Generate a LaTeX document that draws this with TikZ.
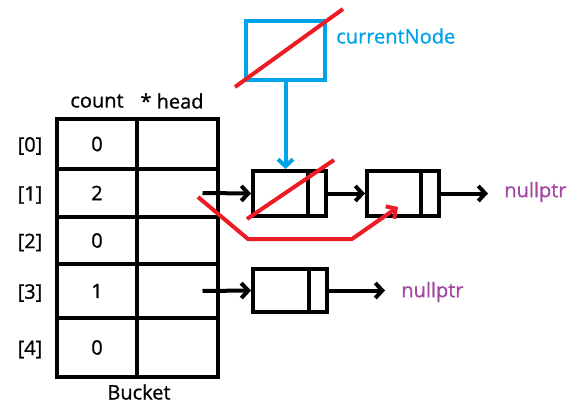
\documentclass[tikz,border=0pt]{standalone}
\usepackage{fontspec}
\setmainfont{Open Sans}[UprightFeatures={FakeBold=0.8}]
\usetikzlibrary{arrows.meta, positioning, calc}
\definecolor{paintblue}{RGB}{0,162,232}
\definecolor{paintred}{RGB}{237,28,36}
\definecolor{paintpurple}{RGB}{163,73,164}

\begin{document}
\begin{tikzpicture}[x=1pt, y=-1pt, line width=4pt,
    font=\fontsize{20}{24}\selectfont,
    cell/.style={draw, minimum width=80pt, inner sep=0pt},
    listnode/.style={draw, minimum width=73pt, minimum height=45pt, inner sep=0pt,
        path picture={\draw[line width=4pt]
            ([xshift=-18pt]path picture bounding box.north east) --
            ([xshift=-18pt]path picture bounding box.south east);}},
    link/.style={-{Straight Barb[length=7pt,width=15pt]}}]
    \useasboundingbox (0,0) rectangle (578,409);

    % Bucket table
    \foreach \i/\y/\h/\v in {0/144/50/0, 1/193/48/2, 2/240.5/47/0, 3/291/54/1, 4/347.5/59/0} {
        \node[cell, minimum height=\h pt] (c\i) at (97,\y) {\v};
        \node[cell, minimum height=\h pt, minimum width=81pt] (h\i) at (177.5,\y) {};
        \node (idx\i) at (30,\y+2) {[\i]};
    }
    \node (count) at (97,101) {count};
    \node (head) at (172,101) {* head};
    \node (bucket) at (139,392) {Bucket};

    % List nodes
    \node[listnode] (n1) at (289.5,193.5) {};
    \node[listnode, minimum width=72pt] (n2) at (403,193.5) {};
    \node[listnode, minimum width=74pt, minimum height=43pt] (n3) at (290,290.5) {};
    \node[text=paintpurple, anchor=west] (null2) at (499,192) {nullptr};
    \node[text=paintpurple, anchor=west] (null3) at (396,292) {nullptr};

    \draw[link] ([xshift=25pt]h1.center) -- (n1.west);
    \draw[link] (n1.east) -- (n2.west);
    \draw[link] (n2.east) -- ([xshift=-11pt]null2.west |- n2.east);
    \draw[link] ([xshift=25pt]h3.center) -- (n3.west);
    \draw[link] (n3.east) -- ([xshift=-11pt]null3.west |- n3.east);

    % currentNode
    \node[draw=paintblue, minimum width=79pt, minimum height=59pt] (cur) at (285.5,50.5) {};
    \node[text=paintblue, anchor=west] (curlabel) at (331,36) {currentNode};
    \draw[paintblue, link] (cur.south) -- (cur.south |- n1.north);

    % deletion marks
    \draw[paintred] (235,87) -- (343,9);
    \draw[paintred] (247,219) -- (334,160);
    \draw[paintred, link] (198,197) -- (248,239) -- (352,239) -- (398,207);
\end{tikzpicture}
\end{document}
